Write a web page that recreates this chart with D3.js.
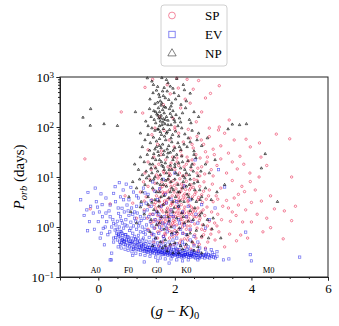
<!DOCTYPE html>
<html>
<head>
<meta charset="utf-8">
<script src="https://cdn.jsdelivr.net/npm/d3@7"></script>
<style>
  body { margin: 0; background: #fff; }
  svg { font-family: "Liberation Serif", "DejaVu Serif", serif; }
</style>
</head>
<body>
<svg id="chart" width="339" height="326"></svg>
<script>
// axis ticks
var xTicks = [0, 2, 4, 6];
var yTicks = [0.1, 1, 10, 100, 1000];

// spectral type markers along the bottom
var spectralTypes = ["A0", "F0", "G0", "K0", "M0"];
var spectralX = [-0.07, 0.79, 1.53, 2.3, 4.45];

// series: [ (g-K)_0 , P_orb in days ]
var spPoints = [
  [1.22,620],[1.42,900],[1.80,700],[2.09,600],[1.88,460],[2.32,900],[2.27,360],[2.48,570],[3.16,670],[2.93,470],
  [2.40,300],[2.56,127],[1.16,190],[2.00,100],[0.60,200],[3.42,138],[1.60,160],[2.15,240],[2.70,200],[1.95,150],
  [2.80,380],[1.70,280],[2.62,850],[2.05,950],[3.16,100],
  [3.14,87],[2.90,64],[2.69,55],[3.00,36],[2.80,32],[4.65,72],[5.00,58],[4.21,48],[3.97,40],[3.86,57],
  [3.55,55],[1.40,70],[1.55,45],[1.72,85],[1.85,55],[1.98,40],[2.10,75],[2.22,50],[2.35,90],[2.48,38],
  [2.58,65],[2.75,45],[3.30,75],[1.30,35],[1.65,33],[2.15,33],[2.40,60],[3.20,42],[2.00,90],[1.48,95],
  [3.03,28],[2.66,24],[2.84,20],[4.25,25],[4.40,17],[5.05,10],[4.20,10],[3.96,12],[3.63,14.5],[3.20,23],
  [1.30,20],[1.38,14],[1.45,25],[1.52,11],[1.58,18],[1.64,28],[1.70,13],[1.76,22],[1.82,16],[1.88,11],
  [1.94,25],[2.00,14],[2.06,20],[2.12,12],[2.18,27],[2.24,16],[2.30,11],[2.36,21],[2.42,14],[2.50,18],
  [2.58,12],[2.70,16],[2.78,11.5],[2.95,14],[3.10,17],[3.35,12],[3.50,20],[1.22,12],[1.60,10.5],[1.85,12],
  [2.10,17],[2.32,25],[2.55,28],[2.65,10.5],[3.00,10.5],[3.80,18],[1.90,19],[2.45,22],[2.20,10.5],[1.48,16],
  [1.10,5],[1.18,8],[1.25,4],[1.30,6.5],[1.35,9],[1.40,3.5],[1.44,5.5],[1.48,7.5],[1.52,4.2],[1.56,9.5],
  [1.60,3.2],[1.63,6],[1.66,8],[1.70,4.5],[1.73,3.3],[1.76,7],[1.80,5],[1.83,9],[1.86,3.8],[1.90,6.5],
  [1.93,4.2],[1.96,8.5],[2.00,3.4],[2.03,5.8],[2.06,7.5],[2.10,4],[2.13,9.2],[2.16,5.2],[2.20,3.6],[2.23,6.8],
  [2.26,4.6],[2.30,8.2],[2.34,3.2],[2.38,5.5],[2.42,7],[2.46,4],[2.50,9],[2.55,5],[2.60,3.5],[2.65,6.5],
  [2.70,4.4],[2.76,8],[2.82,3.6],[2.90,5.5],[2.98,7.2],[3.08,4.2],[3.20,6],[3.35,3.4],[3.50,8.5],[3.66,4.5],
  [1.58,5.2],[1.78,3.1],[1.88,7.8],[2.08,3.1],[2.18,6],[2.28,3.8],[2.48,6.2],[2.58,8.6],[2.72,3.1],[1.68,5],
  [1.98,5],[2.36,4.5],[1.50,3.1],[2.12,4.8],[4.26,3.3],[4.00,3.1],[3.82,5.1],[3.97,8.1],[1.20,3.3],[3.00,3.2],
  [1.20,2.2],[1.28,1.5],[1.33,2.6],[1.38,1.2],[1.42,1.8],[1.46,2.8],[1.50,1.4],[1.53,2.1],[1.56,1.1],[1.60,2.5],
  [1.63,1.6],[1.66,1.05],[1.69,2.0],[1.72,2.9],[1.75,1.3],[1.78,1.8],[1.81,2.4],[1.84,1.15],[1.87,1.6],[1.90,2.2],
  [1.93,2.9],[1.96,1.35],[1.99,1.9],[2.02,2.6],[2.05,1.1],[2.08,1.7],[2.11,2.3],[2.14,1.4],[2.17,2.8],[2.20,1.9],
  [2.23,1.2],[2.26,2.5],[2.29,1.6],[2.32,1.05],[2.35,2.0],[2.38,2.7],[2.41,1.3],[2.44,1.8],[2.48,2.3],[2.52,1.15],
  [2.56,1.6],[2.60,2.4],[2.64,1.35],[2.68,2.0],[2.72,1.1],[2.78,1.7],[2.84,2.5],[2.90,1.3],[2.96,2.0],[3.04,1.2],
  [3.12,1.8],[3.22,1.4],[3.40,2.4],[3.50,2.0],[3.77,1.26],[4.00,1.26],[4.86,2.1],[5.05,1.34],[5.15,2.6],[3.66,2.75],
  [1.55,1.7],[1.65,2.2],[1.74,1.5],[1.85,2.0],[1.95,1.6],[2.06,2.0],[2.16,1.6],[2.25,1.9],[2.36,1.5],[2.46,2.0],
  [1.45,1.3],[1.62,1.25],[1.82,1.4],[2.00,1.3],[2.18,1.15],[2.40,1.05],[2.62,1.8],[2.85,1.05],[1.35,1.8],[1.90,1.05],
  [1.30,0.9],[1.40,0.7],[1.48,0.95],[1.55,0.6],[1.62,0.85],[1.68,0.5],[1.74,0.75],[1.80,0.95],[1.86,0.6],[1.92,0.8],
  [1.98,0.45],[2.04,0.7],[2.10,0.9],[2.16,0.55],[2.22,0.75],[2.28,0.4],[2.34,0.65],[2.40,0.85],[2.46,0.5],[2.52,0.7],
  [2.58,0.95],[2.64,0.45],[2.70,0.62],[2.78,0.85],[2.86,0.5],[2.94,0.72],[3.05,0.55],[3.15,0.8],[3.43,0.72],[3.61,0.53],
  [3.72,0.69],[4.50,0.97],[4.83,0.58],[1.58,0.42],[1.78,0.38],[1.95,0.65],[2.08,0.35],[2.25,0.58],[2.42,0.36],[2.60,0.33],
  [2.80,0.38],[1.70,0.65],[1.88,0.42],[2.30,0.9],[2.50,0.45],[2.12,0.48],[1.45,0.5],[3.30,0.4],[2.00,0.85],[2.70,0.9],
  [-0.35,23],[-0.21,2.3],[0.31,2.9],[0.70,4.2],[1.00,1.5],[0.90,3.0],
  [1.50,2.4],[1.58,1.3],[1.67,2.7],[1.71,1.2],[1.79,2.2],[1.83,1.7],[1.89,2.7],[1.94,1.2],[2.01,1.6],[2.07,2.4],
  [2.13,1.9],[2.19,1.4],[2.24,2.2],[2.31,1.3],[2.37,1.8],[2.43,2.5],[2.50,1.6],[2.54,2.1],[2.66,1.5],[2.74,2.2],
  [1.60,3.8],[1.68,6.5],[1.74,4.8],[1.80,3.5],[1.86,5.5],[1.92,3.1],[1.99,6.8],[2.05,4.4],[2.11,3.5],[2.17,7.2],
  [2.22,4.2],[2.28,5.6],[2.35,3.4],[2.41,6],[2.52,4.5],[2.62,3.9],[2.75,5.2],[2.88,4.2],[3.12,3.6],[3.25,2.6],
  [3.45,1.3],[3.60,1.7],[3.85,2.2],[4.15,1.8],[4.40,1.5],[4.60,2.3],[4.30,0.8],[3.90,0.6],[3.55,3.8],[3.75,6.5],
  [4.10,5.5],[4.50,4.2],[1.55,0.8],[1.65,1.4],[1.75,0.7],[1.85,0.85],[1.97,1.1],[2.07,0.75],[2.20,1.0],[2.33,0.55],
  [2.55,0.6],[2.75,0.7],[2.95,0.9],[3.10,1.05],[1.72,12],[1.90,15],[2.05,24],[2.30,18],[2.60,15],[2.85,25],
  [3.40,30],[3.70,26],[2.45,45],[2.90,95]
];

var evPoints = [
  [-0.46,3.5],[-0.08,6.0],[-0.27,4.9],[0.07,4.6],[-0.20,2.6],[-0.37,1.7],[-0.13,1.9],[0.03,2.0],[0.11,1.6],[-0.23,1.28],
  [-0.28,0.84],[-0.10,0.9],[0.13,0.94],[0.16,0.44],[0.35,0.30],[0.34,0.22],[0.31,2.75],[0.40,4.7],[0.55,7.7],[0.73,7.2],
  [0.44,6.4],[0.53,1.87],[0.22,1.28],[0.00,1.28],[0.40,1.18],[0.66,3.5],[0.75,2.75],[0.62,2.37],[0.31,1.6],[0.44,0.87],
  [0.53,0.69],[0.62,0.55],
  [0.50,1.3],[0.55,1.0],[0.58,1.6],[0.60,0.8],[0.63,1.2],[0.66,0.95],[0.68,2.0],[0.70,0.7],[0.72,1.4],[0.75,1.05],
  [0.78,0.62],[0.80,1.7],[0.82,0.85],[0.85,1.25],[0.87,2.4],[0.90,0.75],[0.92,1.05],[0.95,1.5],[0.97,0.58],[1.00,0.9],
  [1.02,1.9],[1.05,0.68],[1.08,1.2],[1.10,0.8],[1.12,2.8],[1.15,1.0],[1.18,0.6],[1.20,1.5],[1.23,0.72],[1.26,1.1],
  [1.28,2.2],[1.30,0.85],[1.33,0.62],[1.36,1.3],[1.40,0.75],[1.43,1.8],[1.46,0.95],[1.50,0.6],[1.54,1.2],[1.58,0.75],
  [1.62,1.5],[1.66,0.9],[1.70,0.65],[1.75,1.1],[1.80,0.8],[1.86,1.4],[1.92,0.7],[1.98,1.0],[2.05,0.6],[2.12,1.2],
  [2.20,0.75],[2.30,1.6],[2.40,0.9],[2.50,0.65],[0.45,3.2],[0.58,4.0],[0.80,3.5],[0.92,5.0],[1.05,3.8],[1.18,6.0],
  [1.30,4.5],[1.42,8.0],[1.00,2.6],[0.85,6.2],[1.25,3.0],[1.55,3.5],[1.65,2.6],[1.48,5.2],[1.78,3.0],[1.90,2.2],
  [2.05,3.2],[2.20,2.0],[2.35,2.6],[2.55,1.8],[2.70,2.8],[2.90,1.4],[3.05,2.4],[3.14,14],[2.60,1.2],[2.80,0.95],
  [0.20,3.8],[0.10,2.8],[-0.05,3.2],[0.25,0.7],[0.05,0.6],[0.35,1.0],[0.40,0.6],[0.28,2.1],[0.18,1.0],[0.48,0.75],
  [0.58,0.45],[0.68,0.52],[0.88,0.5],[0.95,2.0],[1.10,1.6],[1.20,2.0],[1.38,2.6],[1.52,2.0],[1.60,1.0],[1.72,1.6],
  [1.84,1.2],[1.96,1.6],[2.10,1.4],[2.25,1.1],[2.45,1.3],
  [0.50,0.55],[0.52,0.72],[0.49,0.9],[0.56,0.5],[0.54,0.65],[0.57,0.82],[0.61,0.48],[0.59,0.6],[0.62,0.75],
  [0.66,0.52],[0.64,0.68],[0.67,0.45],[0.71,0.44],[0.69,0.58],[0.72,0.7],[0.76,0.42],[0.74,0.5],[0.77,0.64],
  [0.81,0.4],[0.79,0.55],[0.82,0.47],[0.86,0.38],[0.84,0.46],[0.87,0.6],[0.91,0.4],[0.89,0.52],[0.92,0.36],
  [0.96,0.37],[0.94,0.44],[0.97,0.56],[1.01,0.36],[0.99,0.42],[1.02,0.5],[1.06,0.35],[1.04,0.48],[1.07,0.4],
  [1.11,0.34],[1.09,0.39],[1.12,0.46],[1.16,0.36],[1.14,0.43],[1.17,0.33],[1.21,0.33],[1.19,0.38],[1.22,0.47],
  [1.26,0.32],[1.24,0.41],[1.27,0.36],[1.31,0.35],[1.29,0.31],[1.32,0.44],[1.36,0.33],[1.34,0.39],[1.37,0.3],
  [1.41,0.31],[1.39,0.36],[1.42,0.42],[1.46,0.3],[1.44,0.34],[1.47,0.4],[1.51,0.32],[1.49,0.37],[1.52,0.29],
  [1.56,0.3],[1.54,0.35],[1.57,0.41],[1.61,0.29],[1.59,0.33],[1.62,0.38],[1.66,0.31],[1.64,0.36],[1.67,0.28],
  [1.71,0.29],[1.69,0.34],[1.72,0.4],[1.76,0.28],[1.74,0.32],[1.77,0.37],[1.81,0.3],[1.79,0.35],[1.82,0.27],
  [1.86,0.28],[1.84,0.31],[1.87,0.38],[1.91,0.27],[1.89,0.33],[1.92,0.36],[1.96,0.29],[1.94,0.26],[1.97,0.35],
  [2.01,0.27],[1.99,0.31],[2.02,0.38],[2.06,0.28],[2.04,0.33],[2.07,0.26],[2.11,0.26],[2.09,0.3],[2.12,0.35],
  [2.16,0.27],[2.14,0.32],[2.17,0.25],[2.21,0.26],[2.19,0.29],[2.22,0.34],[2.26,0.28],[2.24,0.25],[2.27,0.31],
  [2.31,0.26],[2.29,0.3],[2.32,0.36],[2.36,0.25],[2.34,0.28],[2.37,0.33],[2.41,0.27],[2.39,0.3],[2.42,0.25],
  [2.46,0.26],[2.44,0.29],[2.47,0.34],[2.51,0.25],[2.49,0.28],[2.52,0.31],[2.56,0.27],[2.54,0.24],[2.57,0.3],
  [2.61,0.25],[2.59,0.29],[2.62,0.33],[2.66,0.26],[2.64,0.24],[2.67,0.3],[2.71,0.25],[2.73,0.28],[2.76,0.27],
  [2.78,0.24],[2.81,0.26],[2.83,0.3],[2.86,0.25],[2.88,0.28],[2.91,0.24],[2.93,0.27],[2.96,0.26],[2.98,0.31],
  [3.01,0.25],[3.03,0.28],[3.06,0.24],[3.10,0.26],
  [1.03,0.44],[1.13,0.41],[1.23,0.37],[1.33,0.35],[1.43,0.33],[1.53,0.34],[1.63,0.31],[1.73,0.3],[1.83,0.33],[1.93,0.3],
  [2.03,0.29],[2.13,0.28],[2.23,0.27],[2.33,0.29],[2.43,0.27],[1.08,0.52],[1.18,0.45],[1.28,0.39],[1.38,0.38],[1.48,0.36],
  [1.58,0.32],[1.68,0.33],[1.78,0.31],[1.88,0.3],[1.98,0.28],[2.08,0.31],[2.18,0.3],[2.28,0.28],[2.38,0.27],[2.48,0.3],
  [2.58,0.27],[2.68,0.27],[2.80,0.28],[0.93,0.48],[0.83,0.52],[0.73,0.55],[0.63,0.55],[1.45,0.45],[1.65,0.42],[1.85,0.4],
  [2.05,0.36],[2.25,0.34],[2.45,0.32],
  [3.97,0.28],[4.00,0.21],[5.26,0.25],[3.85,0.79],[3.41,0.23],[3.27,0.22],[0.31,0.22],[1.20,0.2],[1.55,0.21],[1.85,0.19],
  [2.20,0.21],[0.90,0.27],[2.53,22],[3.30,6.3],[2.25,6.6],[2.00,12],[1.70,9],
  [0.40,0.5],[0.45,0.62],[0.52,0.4],[0.60,0.38],[0.70,0.36],[0.78,0.34],[0.88,0.32],[0.98,0.3],[1.10,0.28],[1.22,0.27],
  [1.35,0.26],[1.50,0.25],[1.62,0.24],[1.75,0.23],[1.90,0.23],[2.05,0.22],[2.35,0.22],[2.60,0.22],[0.95,0.65],[1.05,0.58],
  [1.15,0.55],[1.25,0.52],[1.35,0.5],[1.45,0.55],[1.55,0.48],[1.65,0.5],[1.75,0.46],[1.85,0.5],[1.95,0.44],[2.05,0.46],
  [2.15,0.42],[2.25,0.45],[2.35,0.4],[2.50,0.42],[2.65,0.38],[2.80,0.36],[2.95,0.35],[3.10,0.32],[0.30,0.8],[0.38,1.4],
  [0.46,1.1],[0.52,2.4],[0.60,1.35],[0.70,1.1],[0.78,2.1],[0.85,0.95],[0.90,1.8],[0.98,1.3],[1.05,1.05],[1.12,1.35],
  [1.22,0.9],[1.32,1.6],[1.40,1.05],[1.48,1.4],[1.58,1.8],[1.68,1.2],[1.78,0.95],[1.90,1.8],[2.00,0.75],[2.15,0.9],
  [2.30,0.7],[0.65,5.5],[1.00,4.2],[1.22,4.8],[1.38,3.4],[1.60,5.8],[1.75,4.5],[1.90,3.6],[2.10,2.6],[2.40,3.5],
  [0.20,1.9],[-0.02,2.5],[-0.30,2.2],[0.08,0.75],[1.18,0.78],[1.45,0.7],[1.72,0.58],[1.95,0.55],[2.20,0.5],[2.40,0.55],
  [2.60,0.5]
];

var npPoints = [
  [1.40,820],[1.44,700],[1.66,960],[1.82,760],[1.88,650],[1.95,590],[1.78,880],[2.05,920],[1.55,640],[1.28,950],
  [2.22,700],[1.72,610],
  [1.43,480],[1.60,400],[1.62,330],[1.66,300],[1.64,270],[1.70,420],[1.75,380],[1.84,350],[1.92,300],[2.02,360],
  [2.10,420],[2.30,330],[1.48,290],[1.35,360],[1.52,540],[1.58,450],[1.80,520],[1.98,480],[2.16,280],[1.90,260],
  [1.72,255],[1.55,310],[2.40,470],[2.25,550],[1.68,520],
  [1.57,240],[1.68,220],[1.60,200],[1.72,190],[1.53,180],[1.64,170],[1.78,160],[1.86,230],[1.95,210],[2.03,175],
  [2.12,150],[2.38,140],[2.42,120],[1.46,140],[1.38,160],[1.50,120],[1.62,130],[1.74,115],[1.82,135],[1.90,110],
  [2.00,125],[2.08,105],[2.20,190],[2.28,240],[0.97,200],[1.24,130],[1.30,105],[1.58,150],[1.66,110],[1.70,145],
  [1.92,160],[2.15,125],[2.50,200],[1.45,210],[1.34,230],[1.76,245],[1.98,140],[2.62,160],[1.88,185],[1.60,105],
  [-0.40,155],[-0.20,230],[-0.21,107],[0.15,115],[0.50,106],
  [3.50,113],[3.69,110],[3.87,115],[3.39,91],[4.36,29],[4.26,15],[4.68,3.2],[2.97,0.91],
  [1.40,95],[1.48,85],[1.55,90],[1.62,80],[1.70,92],[1.78,75],[1.86,88],[1.94,70],[2.02,82],[2.10,65],
  [2.18,95],[2.26,72],[2.35,60],[2.45,85],[2.58,55],[1.30,70],[1.22,55],[1.36,48],[1.44,62],[1.52,52],
  [1.60,58],[1.68,45],[1.76,55],[1.84,42],[1.92,50],[2.00,38],[2.08,48],[2.16,35],[2.24,45],[2.32,40],
  [2.50,33],[2.70,42],[1.15,40],[1.48,36],[1.56,32],[1.64,38],[1.72,33],[1.80,36],[1.88,31],[1.96,34],
  [1.10,75],[2.85,60],[2.62,75],[1.34,34],[2.40,50],
  [1.10,25],[1.20,20],[1.28,28],[1.35,18],[1.42,24],[1.50,15],[1.58,27],[1.65,20],[1.72,14],[1.80,25],
  [1.88,17],[1.95,22],[2.02,12],[2.10,19],[2.18,26],[2.26,14],[2.34,21],[2.42,16],[2.55,24],[2.68,13],
  [2.80,18],[1.05,14],[1.15,11],[1.25,13],[1.32,10.5],[1.40,12],[1.48,10],[1.55,13],[1.62,11],[1.70,16],
  [1.78,12],[1.85,10.5],[1.92,14],[2.00,18],[2.08,11],[2.15,15],[2.22,10.5],[2.30,12],[2.38,11],[2.48,13],
  [2.60,10.5],[2.90,12],[0.95,18],[1.60,22],[1.75,19],[2.05,28],[3.05,22],[1.38,15],[1.45,29],[2.50,28],
  [0.90,8],[1.00,6],[1.08,9],[1.15,5],[1.22,7],[1.30,4],[1.36,8.5],[1.42,6],[1.48,3.5],[1.54,7.5],
  [1.60,5],[1.66,9],[1.72,4.2],[1.78,6.5],[1.84,3.8],[1.90,8],[1.96,5.5],[2.02,4],[2.08,7],[2.14,3.3],
  [2.20,6],[2.26,9.5],[2.32,4.5],[2.38,7],[2.45,3.6],[2.52,5.5],[2.60,8],[2.70,4],[2.80,6],[2.95,3.5],
  [3.10,5],[0.80,4],[1.12,3.2],[1.26,9.5],[1.40,3.1],[1.58,3.3],[1.70,7],[1.88,5],[2.00,9],[2.12,5],
  [2.24,3.2],[2.40,9],[2.56,3.2],[3.30,7],[1.52,5],[1.82,9],[2.30,6.5],[1.95,3.2],[1.64,4],[2.65,5.5],
  [1.10,2.5],[1.20,1.8],[1.30,2.8],[1.38,1.4],[1.45,2.2],[1.52,1.1],[1.58,2.6],[1.65,1.6],[1.72,0.9],[1.78,2.0],
  [1.85,1.3],[1.92,0.75],[1.98,2.4],[2.05,1.5],[2.12,0.95],[2.18,1.9],[2.25,1.2],[2.32,0.7],[2.40,2.1],[2.48,1.4],
  [2.56,0.85],[2.65,1.7],[2.75,1.1],[2.88,0.6],[3.00,1.5],[1.35,0.8],[1.50,0.6],[1.62,0.5],[1.75,0.55],[1.88,0.45],
  [2.00,0.48],[2.15,0.42],[2.30,0.45],[2.45,0.5],[2.60,0.4],[1.00,1.2],[0.85,2.0],[1.42,0.42],[1.68,0.38],[2.20,0.36],
  [1.80,0.33],[2.50,0.34],[2.70,0.3],[1.95,0.3],[3.20,0.6],
  [1.50,200],[1.56,170],[1.63,150],[1.69,125],[1.75,140],[1.82,110],[1.57,90],[1.65,70],[1.73,65],[1.80,80],
  [1.90,60],[1.52,40],[1.60,42],[1.70,28],[1.82,30],[1.98,25],[2.12,40],[1.42,18],[1.50,22],[1.66,17],
  [1.85,14],[2.00,16],[2.20,20],[2.45,18],[1.45,9],[1.62,7],[1.76,8.5],[1.92,6],[2.08,5],[2.22,8],
  [2.36,4],[2.50,7.5],[2.66,3.5],[1.55,2],[1.70,2.8],[1.82,1.6],[1.95,2],[2.10,2.6],[2.22,1.6],[2.35,1.3],
  [2.52,2.4],[2.70,1.9],[2.85,1.4],[1.60,1.2],[1.90,1.0],[2.05,0.8],[2.40,0.75],[2.70,0.65],[1.75,0.42],[2.10,0.3]
];

var series = [
  { name: "SP", data: spPoints, color: "#e8123f", shape: "circle" },
  { name: "EV", data: evPoints, color: "#0a0ae6", shape: "square" },
  { name: "NP", data: npPoints, color: "#000000", shape: "triangle" }
];

var margin = { top: 77, left: 60 },
    width = 268,
    height = 200;

var svg = d3.select("#chart");
var g = svg.append("g")
    .attr("transform", "translate(" + margin.left + "," + margin.top + ")");

var x = d3.scaleLinear().domain([-1, 6]).range([0, width]);
var y = d3.scaleLog().domain([0.1, 1000]).range([height, 0]);

var plot = g.append("g");

function drawMarks(sel, s, big) {
    if (s.shape === "circle") {
        sel.append("circle")
            .attr("r", big ? 3.4 : 1.2)
            .attr("fill", "none")
            .attr("stroke", s.color)
            .attr("stroke-width", big ? 0.9 : 0.75);
    } else if (s.shape === "square") {
        var w = big ? 6.4 : 2.3;
        sel.append("rect")
            .attr("x", -w / 2).attr("y", -w / 2)
            .attr("width", w).attr("height", w)
            .attr("fill", "none")
            .attr("stroke", s.color)
            .attr("stroke-width", big ? 0.9 : 0.7);
    } else {
        sel.append("path")
            .attr("d", d3.symbol(d3.symbolTriangle, big ? 30 : 2.6)())
            .attr("fill", "none")
            .attr("stroke", s.color)
            .attr("stroke-width", big ? 0.9 : 0.85);
    }
}

series.forEach(function(s) {
    var pts = plot.selectAll(".pt-" + s.name)
        .data(s.data)
        .enter().append("g")
        .attr("class", "pt-" + s.name)
        .attr("opacity", s.shape === "circle" ? 0.68 : (s.shape === "triangle" ? 0.75 : 0.6))
        .attr("transform", function(d) {
            return "translate(" + x(d[0]) + "," + y(d[1]) + ")";
        });
    drawMarks(pts, s, false);
});

// spectral type labels
g.selectAll(".sptype")
    .data(spectralTypes)
    .enter().append("text")
    .attr("class", "sptype")
    .attr("x", function(d, i) { return x(spectralX[i]); })
    .attr("y", height - 4)
    .attr("text-anchor", "middle")
    .style("font-size", "8.5px")
    .text(function(d) { return d; });

// axes
var xMinor = d3.range(-0.5, 6, 0.5).filter(function(v) { return xTicks.indexOf(v) < 0; });
g.append("g")
    .attr("transform", "translate(0," + height + ")")
    .call(d3.axisBottom(x).tickValues(xMinor).tickSize(2).tickFormat(""))
    .call(function(a) { a.select(".domain").remove(); });

var xAxis = g.append("g")
    .attr("transform", "translate(0," + height + ")")
    .call(d3.axisBottom(x).tickValues(xTicks).tickSize(3.5).tickPadding(3).tickFormat(d3.format("d")));
xAxis.selectAll("text").style("font-size", "13px").attr("fill", "#000");

var yMinor = [];
[0.1, 1, 10, 100].forEach(function(dec) {
    for (var k = 2; k <= 9; k++) yMinor.push(dec * k);
});
g.append("g")
    .call(d3.axisLeft(y).tickValues(yMinor).tickSize(2).tickFormat(""))
    .call(function(a) { a.select(".domain").remove(); });

var yAxis = g.append("g")
    .call(d3.axisLeft(y).tickValues(yTicks).tickSize(3.5).tickPadding(4).tickFormat(""));
yAxis.selectAll(".tick").append("text")
    .attr("x", -6)
    .attr("dy", "0.35em")
    .attr("text-anchor", "end")
    .attr("fill", "#000")
    .style("font-size", "13px")
    .each(function(d) {
        var t = d3.select(this);
        t.append("tspan").text("10");
        t.append("tspan")
            .attr("dy", "-0.45em")
            .style("font-size", "9px")
            .text(String(Math.round(Math.log10(d))).replace("-", "\u2212"));
    });

// d3 axes put a sans-serif font on their groups; use the serif face instead
g.selectAll("g").attr("font-family", null);
g.selectAll(".domain").attr("stroke", "#222");
g.selectAll(".tick line").attr("stroke", "#222");

// box
g.append("rect")
    .attr("width", width).attr("height", height)
    .attr("fill", "none")
    .attr("stroke", "#222")
    .attr("stroke-width", 1);

// axis labels
var xl = svg.append("text")
    .attr("x", margin.left + x(2))
    .attr("y", 316)
    .attr("text-anchor", "middle")
    .style("font-size", "15px");
xl.append("tspan").text("(");
xl.append("tspan").style("font-style", "italic").text("g");
xl.append("tspan").text(" \u2212 ");
xl.append("tspan").style("font-style", "italic").text("K");
xl.append("tspan").text(")");
xl.append("tspan").attr("dy", "3").style("font-size", "10.5px").text("0");

var yl = svg.append("text")
    .attr("transform", "translate(24," + (margin.top + height / 2) + ") rotate(-90)")
    .attr("text-anchor", "middle")
    .style("font-size", "15px");
yl.append("tspan").style("font-style", "italic").text("P");
yl.append("tspan").attr("dy", "3").style("font-style", "italic").style("font-size", "10.5px").text("orb");
yl.append("tspan").attr("dy", "-3").text(" (days)");

// legend
var legend = svg.append("g").attr("transform", "translate(161,5)");
legend.append("rect")
    .attr("width", 66).attr("height", 61)
    .attr("rx", 3)
    .attr("fill", "#fff")
    .attr("fill-opacity", 0.85)
    .attr("stroke", "#d0d0d0")
    .attr("stroke-width", 1);
series.forEach(function(s, i) {
    var row = legend.append("g")
        .attr("transform", "translate(11," + (10.5 + i * 19) + ")");
    var mk = row.append("g").attr("opacity", 0.55);
    drawMarks(mk, s, true);
    row.append("text")
        .attr("x", 33)
        .attr("dy", "0.35em")
        .style("font-size", "13px")
        .text(s.name);
});
</script>
</body>
</html>
